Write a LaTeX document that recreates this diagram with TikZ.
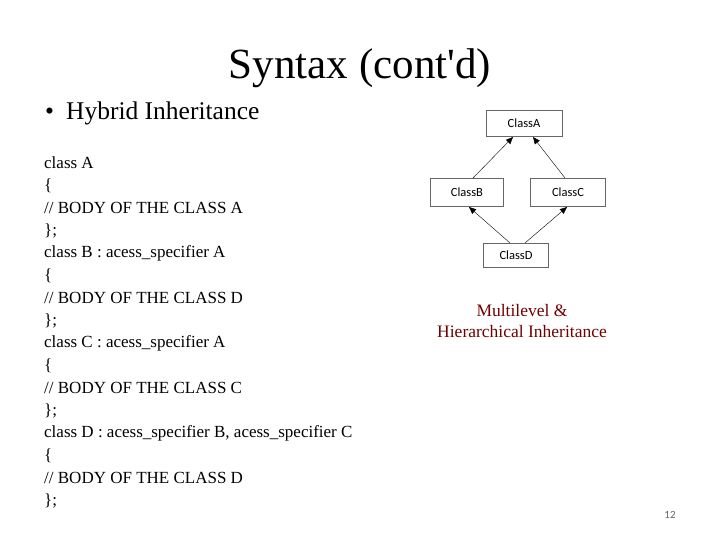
\documentclass[tikz,border=0pt]{standalone}
\usepackage{fontspec}
\setmainfont{Liberation Serif}
\newfontfamily\boxfont{Carlito}
\usetikzlibrary{arrows.meta}

\begin{document}
\begin{tikzpicture}[x=1pt,y=-1pt]

\tikzstyle cls=[draw=black!60, fill=white, inner sep=0pt, font=\boxfont\fontsize{12.5}{14}\selectfont]
\tikzstyle code=[anchor=west, inner sep=0pt, font=\fontsize{17}{19}\selectfont]
\tikzstyle inh=[-{Triangle[length=7pt,width=6pt]}, black]

\useasboundingbox (0,0) rectangle (720,540);

\node (title) at (360,68) {\fontsize{43}{46}\selectfont Syntax (cont\textquotesingle d)};
\node (bullet) [anchor=west, inner sep=0pt] at (45,113) {\fontsize{25.5}{28}\selectfont\textbullet\hspace{12pt}Hybrid Inheritance};

\foreach \t [count=\i from 0] in {class A,\{,// BODY OF THE CLASS A,\};,
  class B : acess\_specifier A,\{,// BODY OF THE CLASS D,\};,
  class C : acess\_specifier A,\{,// BODY OF THE CLASS C,\};,
  class D : acess\_specifier B{,} acess\_specifier C,\{,// BODY OF THE CLASS D,\};}
  \node (l\i) [code] at (44,{163+22.5*\i}) {\t};

\node (a) [cls, minimum width=76pt, minimum height=26pt] at (524,123) {ClassA};
\node (b) [cls, minimum width=73pt, minimum height=28pt] at (467,192) {ClassB};
\node (c) [cls, minimum width=75pt, minimum height=28pt] at (568,192) {ClassC};
\node (d) [cls, minimum width=65pt, minimum height=24pt] at (516,255) {ClassD};

\draw [inh] (473,178) -- (513,137);
\draw [inh] (565,178) -- (533,137);
\draw [inh] (510,243) -- (469,207);
\draw [inh] (525,243) -- (567,207);

\node (cap) [align=center, text=red!45!black, font=\fontsize{17.5}{21}\selectfont] at (522,321) {Multilevel \&\\Hierarchical Inheritance};
\node (num) [text=black!60, font=\boxfont\fontsize{11}{13}\selectfont] at (670,515) {12};

\end{tikzpicture}
\end{document}
